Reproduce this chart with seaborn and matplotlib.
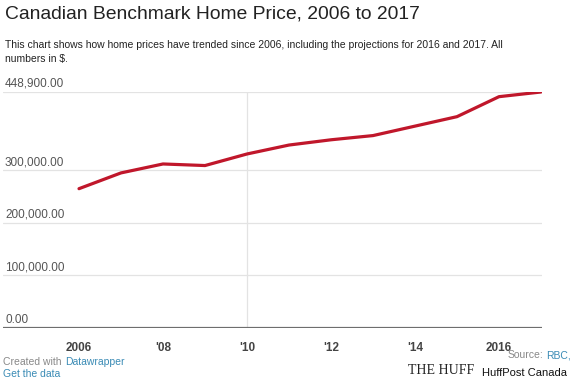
import matplotlib
matplotlib.use("Agg")
import matplotlib.pyplot as plt
import matplotlib.transforms as mtransforms
import seaborn as sns
import pandas as pd

years = [2006, 2007, 2008, 2009, 2010, 2011, 2012, 2013, 2014, 2015, 2016, 2017]
prices = [265000, 295000, 312000, 309000, 331000, 348000, 358000, 366000, 384000, 402000, 440000, 448900]
ytick_values = [0, 100000, 200000, 300000, 448900]
ytick_labels = ["0.00", "100,000.00", "200,000.00", "300,000.00", "448,900.00"]
xtick_values = [2006, 2008, 2010, 2012, 2014, 2016]
xtick_labels = ["2006", "'08", "'10", "'12", "'14", "2016"]

df = pd.DataFrame({"year": years, "price": prices})

sns.set_theme(style="white")
plt.rcParams["font.family"] = ["Liberation Sans", "DejaVu Sans"]

fig = plt.figure(figsize=(5.7, 3.8), dpi=100)
ax = fig.add_axes([3/570, 1-328/380, (542-3)/570, (328-92)/380])

for v in ytick_values[1:]:
    ax.axhline(v, color="#e3e3e3", lw=0.9, zorder=1)
ax.axvline(2010, color="#e3e3e3", lw=0.9, zorder=1)

sns.lineplot(data=df, x="year", y="price", color="#c0172b", lw=2.3, ax=ax, zorder=3)

ax.set_xlim(2006 - 76/42, 2017 + 1/42)
ax.set_ylim(0, 448900)
ax.axhline(0, color="#6e6e6e", lw=1.6, zorder=2)

for s in ax.spines.values():
    s.set_visible(False)
ax.set_yticks([])
ax.set_xticks(xtick_values)
ax.set_xticklabels(xtick_labels, fontsize=8.5, fontweight="bold", color="#444444")
ax.tick_params(axis="x", length=0, pad=10)
ax.set_xlabel("")
ax.set_ylabel("")

off = mtransforms.offset_copy(ax.get_yaxis_transform(), fig=fig, x=2, y=2, units="dots")
for v, lab in zip(ytick_values, ytick_labels):
    ax.text(0, v, lab, transform=off, ha="left", va="bottom", fontsize=8.5, color="#555555")

fig.text(5/570, 1-14/380, "Canadian Benchmark Home Price, 2006 to 2017", fontsize=13.9,
         color="#222222", va="center", ha="left")
fig.text(5/570, 1-45/380, "This chart shows how home prices have trended since 2006, including the projections for 2016 and 2017. All",
         fontsize=7.5, color="#222222", va="center", ha="left")
fig.text(5/570, 1-59/380, "numbers in $.", fontsize=7.5, color="#222222", va="center", ha="left")

fig.text(3/570, 1-362/380, "Created with ", fontsize=7.5, color="#888888", va="center", ha="left")
fig.text(65/570, 1-362/380, "Datawrapper", fontsize=7.5, color="#3a8bb5", va="center", ha="left")
fig.text(3/570, 1-374/380, "Get the data", fontsize=7.5, color="#3a8bb5", va="center", ha="left")
fig.text(543/570, 1-355/380, "Source:", fontsize=7.5, color="#888888", va="center", ha="right")
fig.text(546/570, 1-355/380, "RBC,", fontsize=7.5, color="#3a8bb5", va="center", ha="left")
fig.text(408/570, 1-370/380, "THE HUFF", fontsize=10, family="Liberation Serif",
         color="#222222", va="center", ha="left")
fig.text(482/570, 1-373/380, "HuffPost Canada", fontsize=8, color="#111111", va="center", ha="left",
         bbox=dict(facecolor="white", edgecolor="none", pad=1.5))

fig.savefig("out.png", dpi=100)
